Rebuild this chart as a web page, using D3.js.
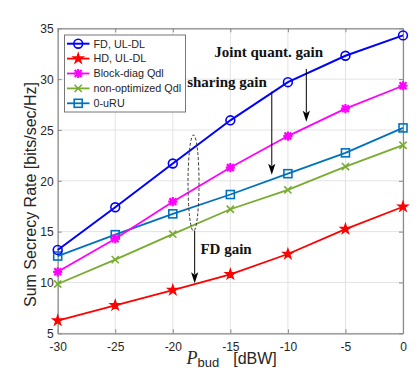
<!DOCTYPE html>
<html><head><meta charset="utf-8">
<script src="https://cdn.jsdelivr.net/npm/d3@7"></script>
<style>html,body{margin:0;padding:0;background:#fff;}svg{display:block;}</style>
</head><body>
<svg id="c" width="416" height="374"></svg>
<script>
const xValues = [-30, -25, -20, -15, -10, -5, 0];
const fdULDL = [13.2, 17.4, 21.7, 25.95, 29.7, 32.3, 34.3];
const hdULDL = [6.25, 7.75, 9.25, 10.8, 12.8, 15.25, 17.45];
const blockDiag = [11.05, 14.3, 17.95, 21.3, 24.4, 27.1, 29.35];
const nonOptimized = [9.85, 12.25, 14.75, 17.2, 19.1, 21.4, 23.5];
const zeroURU = [12.6, 14.7, 16.75, 18.65, 20.7, 22.75, 25.2];
const seriesNames = ["FD, UL-DL", "HD, UL-DL", "Block-diag Qdl", "non-optimized Qdl", "0-uRU"];
const xTicks = [-30, -25, -20, -15, -10, -5, 0];
const yTicks = [5, 10, 15, 20, 25, 30, 35];

const W = 416, H = 374;
const m = {l: 57.7, r: 403, t: 28.3, b: 333.3};
const svg = d3.select("#c");
const x = d3.scaleLinear().domain([-30, 0]).range([m.l, m.r]);
const y = d3.scaleLinear().domain([5, 35]).range([m.b, m.t]);

const axisCol = "#8a8a8a", txtCol = "#262626", gridCol = "#e3e3e3";
const sans = "'Liberation Sans', Arial, sans-serif";
const serif = "'Liberation Serif', 'Times New Roman', serif";

// grid
const g = svg.append("g");
g.selectAll(".gx").data(xTicks).join("line")
  .attr("x1", d => x(d)).attr("x2", d => x(d)).attr("y1", m.t).attr("y2", m.b)
  .attr("stroke", gridCol).attr("stroke-width", 1);
g.selectAll(".gy").data(yTicks).join("line")
  .attr("y1", d => y(d)).attr("y2", d => y(d)).attr("x1", m.l).attr("x2", m.r)
  .attr("stroke", gridCol).attr("stroke-width", 1);

// axes
const tl = -4;
const xb = svg.append("g").attr("transform", `translate(0,${m.b})`)
  .call(d3.axisBottom(x).tickValues(xTicks).tickSize(tl).tickSizeOuter(0).tickPadding(9));
const xt = svg.append("g").attr("transform", `translate(0,${m.t})`)
  .call(d3.axisTop(x).tickValues(xTicks).tickSize(tl).tickSizeOuter(0).tickFormat(""));
const yl = svg.append("g").attr("transform", `translate(${m.l},0)`)
  .call(d3.axisLeft(y).tickValues(yTicks).tickSize(tl).tickSizeOuter(0).tickPadding(4));
const yr = svg.append("g").attr("transform", `translate(${m.r},0)`)
  .call(d3.axisRight(y).tickValues(yTicks).tickSize(tl).tickSizeOuter(0).tickFormat(""));
[xb, xt, yl, yr].forEach(a => {
  a.select(".domain").attr("stroke", axisCol).attr("stroke-width", 1.2);
  a.selectAll(".tick line").attr("stroke", axisCol);
  a.selectAll(".tick text").attr("fill", txtCol).attr("font-family", sans).attr("font-size", 12);
});
xb.selectAll(".tick text").text(d => d === 0 ? "0" : d3.format("d")(d).replace("−", "-"));
yl.selectAll(".tick text").attr("dy", "0.36em");

// markers
function drawMarker(sel, type, color) {
  if (type === "circle") {
    sel.append("circle").attr("r", 4.4).attr("fill", "none").attr("stroke", color).attr("stroke-width", 1.6);
  } else if (type === "star") {
    sel.append("path").attr("d", d3.symbol(d3.symbolStar).size(32)()).attr("fill", color).attr("stroke", color).attr("stroke-width", 1.2);
  } else if (type === "asterisk") {
    const r = 4.6;
    sel.append("path").attr("d", `M${-r},0L${r},0M0,${-r}L0,${r}M${-r*0.75},${-r*0.75}L${r*0.75},${r*0.75}M${-r*0.75},${r*0.75}L${r*0.75},${-r*0.75}`)
      .attr("stroke", color).attr("stroke-width", 2.2).attr("fill", "none");
  } else if (type === "x") {
    const r = 3.6;
    sel.append("path").attr("d", `M${-r},${-r}L${r},${r}M${-r},${r}L${r},${-r}`)
      .attr("stroke", color).attr("stroke-width", 1.6).attr("fill", "none");
  } else if (type === "square") {
    sel.append("rect").attr("x", -4).attr("y", -4).attr("width", 8).attr("height", 8)
      .attr("fill", "none").attr("stroke", color).attr("stroke-width", 1.6);
  }
}

const series = [
  {name: seriesNames[0], vals: fdULDL, color: "#0000ff", mk: "circle", w: 2},
  {name: seriesNames[1], vals: hdULDL, color: "#ff0000", mk: "star", w: 1.8},
  {name: seriesNames[2], vals: blockDiag, color: "#ff00ff", mk: "asterisk", w: 1.8},
  {name: seriesNames[3], vals: nonOptimized, color: "#77ac30", mk: "x", w: 1.8},
  {name: seriesNames[4], vals: zeroURU, color: "#0072bd", mk: "square", w: 1.8}
];
const line = d3.line().x(d => x(d[0])).y(d => y(d[1]));
const drawOrder = [3, 4, 2, 1, 0];
drawOrder.forEach(i => {
  const s = series[i];
  const pts = xValues.map((xv, j) => [xv, s.vals[j]]);
  svg.append("path").attr("d", line(pts)).attr("fill", "none").attr("stroke", s.color).attr("stroke-width", s.w);
  pts.forEach(p => {
    const gm = svg.append("g").attr("transform", `translate(${x(p[0])},${y(p[1])})`);
    drawMarker(gm, s.mk, s.color);
  });
});

// annotations
const ann = svg.append("g");
const ellCx = -18.2, ellCy = 19.78, ellRy = 4.72;
ann.append("ellipse").attr("cx", x(ellCx)).attr("cy", y(ellCy)).attr("rx", 5.5).attr("ry", y(ellCy - ellRy) - y(ellCy))
  .attr("fill", "none").attr("stroke", "#333").attr("stroke-width", 1).attr("stroke-dasharray", "3,2");
function arrow(x0, y0, y1) {
  const X = x(x0), Y0 = y(y0), Y1 = y(y1);
  ann.append("line").attr("x1", X).attr("x2", X).attr("y1", Y0).attr("y2", Y1 - 9).attr("stroke", "#000").attr("stroke-width", 1);
  ann.append("path").attr("d", `M${X},${Y1}L${X-3.6},${Y1-11}L${X},${Y1-8.5}L${X+3.6},${Y1-11}Z`).attr("fill", "#000");
}
arrow(-18.1, ellCy - ellRy, 9.92);
arrow(-11.4, 28.76, 20.6);
arrow(-8.4, 31.0, 25.8);
ann.append("text").attr("x", x(-17.6)).attr("y", y(12.8)).text("FD gain")
  .attr("font-family", serif).attr("font-weight", "bold").attr("font-size", 15).attr("fill", "#111");
ann.append("text").attr("x", x(-18.75)).attr("y", y(29.25)).text("sharing gain")
  .attr("font-family", serif).attr("font-weight", "bold").attr("font-size", 15).attr("fill", "#111");
ann.append("text").attr("x", x(-16.4)).attr("y", y(32.2)).text("Joint quant. gain")
  .attr("font-family", serif).attr("font-weight", "bold").attr("font-size", 15).attr("fill", "#111");

// legend
const lg = svg.append("g");
lg.append("rect").attr("x", 64.5).attr("y", 35).attr("width", 121).attr("height", 77)
  .attr("fill", "#fff").attr("stroke", "#777").attr("stroke-width", 1);
series.forEach((s, i) => {
  const yy = 43.7 + i * 14.9;
  lg.append("line").attr("x1", 67).attr("x2", 89.5).attr("y1", yy).attr("y2", yy).attr("stroke", s.color).attr("stroke-width", s.w);
  const gm = lg.append("g").attr("transform", `translate(78.2,${yy})`);
  drawMarker(gm, s.mk, s.color);
  lg.append("text").attr("x", 93.5).attr("y", yy).attr("dy", "0.36em").text(s.name)
    .attr("font-family", sans).attr("font-size", 10.8).attr("fill", txtCol);
});

// axis labels
svg.append("text").attr("transform", "translate(36,194.5) rotate(-90)").attr("text-anchor", "middle")
  .attr("font-family", sans).attr("font-size", 16).attr("fill", txtCol).text("Sum Secrecy Rate [bits/sec/Hz]");
const xl = svg.append("text").attr("x", 186.5).attr("y", 364).attr("fill", txtCol);
xl.append("tspan").attr("font-family", serif).attr("font-style", "italic").attr("font-size", 18).text("P");
xl.append("tspan").attr("font-family", sans).attr("font-size", 13).attr("dy", 2.5).text("bud");
xl.append("tspan").attr("font-family", sans).attr("font-size", 16).attr("dy", -2.5).attr("dx", 14).text("[dBW]");
</script>
</body></html>
